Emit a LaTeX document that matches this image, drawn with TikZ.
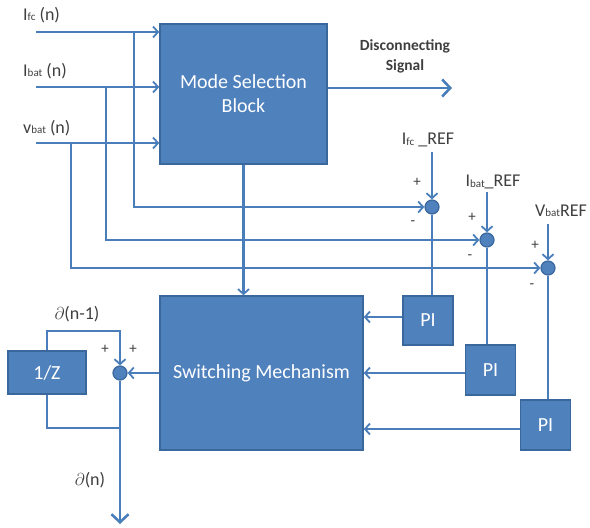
\documentclass[tikz,border=0pt]{standalone}
\usepackage{fontspec}
\setmainfont{Carlito}
\usepackage{tikz}
\usetikzlibrary{positioning, arrows.meta}
\definecolor{BlockBlue}{HTML}{4F81BD}
\definecolor{EdgeBlue}{HTML}{3A679C}
\definecolor{WireBlue}{HTML}{4A7EBB}
\definecolor{LabelGray}{HTML}{3F3F3F}
\newcommand{\smallsub}[1]{\raisebox{-0.5pt}{\fontsize{11}{11}\selectfont #1}}

\begin{document}
\begin{tikzpicture}[
            x=1pt, y=-1pt,
            block/.style={draw=EdgeBlue, line width=1.5pt, fill=BlockBlue, text=white, align=center, font=\fontsize{20}{24}\selectfont, inner sep=0pt},
            sumnode/.style={circle, draw=EdgeBlue, line width=1.2pt, fill=BlockBlue, minimum size=14pt, inner sep=0pt},
            wire/.style={WireBlue, line width=2.2pt},
            arrow/.style={wire, -{Straight Barb[length=5pt, width=11pt, line width=1.8pt]}},
            bigarrow/.style={WireBlue, line width=2.6pt, -{Straight Barb[length=8pt, width=17pt, line width=2.6pt]}},
            lbl/.style={text=LabelGray, font=\fontsize{18}{20}\selectfont, inner sep=1pt},
            sign/.style={text=LabelGray, font=\fontsize{15}{15}\selectfont, inner sep=0pt}
        ]
            \useasboundingbox (0,0) rectangle (590,528);

            % Blocks
            \node[block, minimum width=167pt, minimum height=140pt] (modesel) at (243.5,94) {Mode Selection\\Block};
            \node[block, minimum width=203pt, minimum height=154pt] (switching) at (261.5,373) {Switching Mechanism};
            \node[block, minimum width=50pt, minimum height=49pt] (pifc) at (428,320.5) {PI};
            \node[block, minimum width=50pt, minimum height=50pt] (pibat) at (490.5,370) {PI};
            \node[block, minimum width=50pt, minimum height=50pt] (pivbat) at (545.5,425) {PI};
            \node[block, minimum width=78pt, minimum height=43pt] (delay) at (47,372.5) {1/Z};

            % Summing points
            \node[sumnode] (sumfc) at (432,207) {};
            \node[sumnode] (sumbat) at (487,240) {};
            \node[sumnode] (sumvbat) at (548,268) {};
            \node[sumnode] (sumdelta) at (120,373) {};

            % Inputs
            \node[lbl, anchor=west] (ifclab) at (22,15) {I\smallsub{fc} (n)};
            \node[lbl, anchor=west] (ibatlab) at (22,71) {I\smallsub{bat} (n)};
            \node[lbl, anchor=west] (vbatlab) at (22,128) {v\smallsub{bat} (n)};
            \coordinate (ifcin) at (36,32);
            \coordinate (ibatin) at (36,87);
            \coordinate (vbatin) at (36,143);
            \draw[arrow] (ifcin) -- (ifcin -| modesel.west);
            \draw[arrow] (ibatin) -- (ibatin -| modesel.west);
            \draw[arrow] (vbatin) -- (vbatin -| modesel.west);

            % Feedback taps to the summing points
            \coordinate (tapfc) at (134,32);
            \coordinate (tapbat) at (106,87);
            \coordinate (tapvbat) at (71,143);
            \draw[arrow] (tapfc) |- (sumfc.west);
            \draw[arrow] (tapbat) |- (sumbat.west);
            \draw[arrow] (tapvbat) |- (sumvbat.west);

            % References
            \node[lbl] (fcreflab) at (428,140) {I\smallsub{fc} \_REF};
            \node[lbl] (batreflab) at (493,182) {I\smallsub{bat}\_REF};
            \node[lbl] (vbatreflab) at (561,211) {V\smallsub{bat}REF};
            \draw[arrow] (sumfc |- fcreflab.south) ++(0,4) -- (sumfc.north);
            \draw[arrow] (sumbat |- batreflab.south) ++(0,2) -- (sumbat.north);
            \draw[arrow] (sumvbat |- vbatreflab.south) ++(0,6) -- (sumvbat.north);

            \node[sign] (plusfc) at (417,182) {+};
            \node[sign] (minusfc) at (413,223) {-};
            \node[sign] (plusbat) at (472,217) {+};
            \node[sign] (minusbat) at (470,257) {-};
            \node[sign] (plusvbat) at (535,245) {+};
            \node[sign] (minusvbat) at (532,286) {-};

            % Summing points to PI
            \draw[wire] (sumfc.south) -- (sumfc |- pifc.north);
            \draw[wire] (sumbat.south) -- (sumbat |- pibat.north);
            \draw[wire] (sumvbat.south) -- (sumvbat |- pivbat.north);

            % PI to switching
            \draw[arrow] (pifc.west |- 0,317) -- (switching.east |- 0,317);
            \draw[arrow] (pibat.west |- switching.east) -- (switching.east);
            \draw[arrow] (pivbat.west |- 0,429) -- (switching.east |- 0,429);

            % Disconnecting signal
            \coordinate (discout) at (452,88);
            \draw[bigarrow] (discout -| modesel.east) -- (discout);
            \node[text=LabelGray, font=\fontsize{15.5}{20}\bfseries, align=center] (disclab) at (405,56) {Disconnecting\\Signal};

            % Mode selection to switching
            \draw[arrow] (modesel.south) -- (modesel.south |- switching.north);

            % Duty cycle update
            \draw[arrow] (switching.west |- sumdelta) -- (sumdelta.east);
            \coordinate (fbtop) at (120,331);
            \draw[arrow] (delay.north) |- (fbtop) -- (sumdelta.north);
            \node[lbl] (prevlab) at (77,314) {$\partial$(n-1)};
            \node[sign] (plusprev) at (105,349) {+};
            \node[sign] (plusnew) at (133,349) {+};

            \coordinate (branch) at (120,428);
            \coordinate (deltaout) at (120,524);
            \draw[bigarrow] (sumdelta.south) -- (deltaout);
            \draw[wire] (branch) -| (delay.south);
            \node[lbl] (deltalab) at (90,480) {$\partial$(n)};

        \end{tikzpicture}
\end{document}
